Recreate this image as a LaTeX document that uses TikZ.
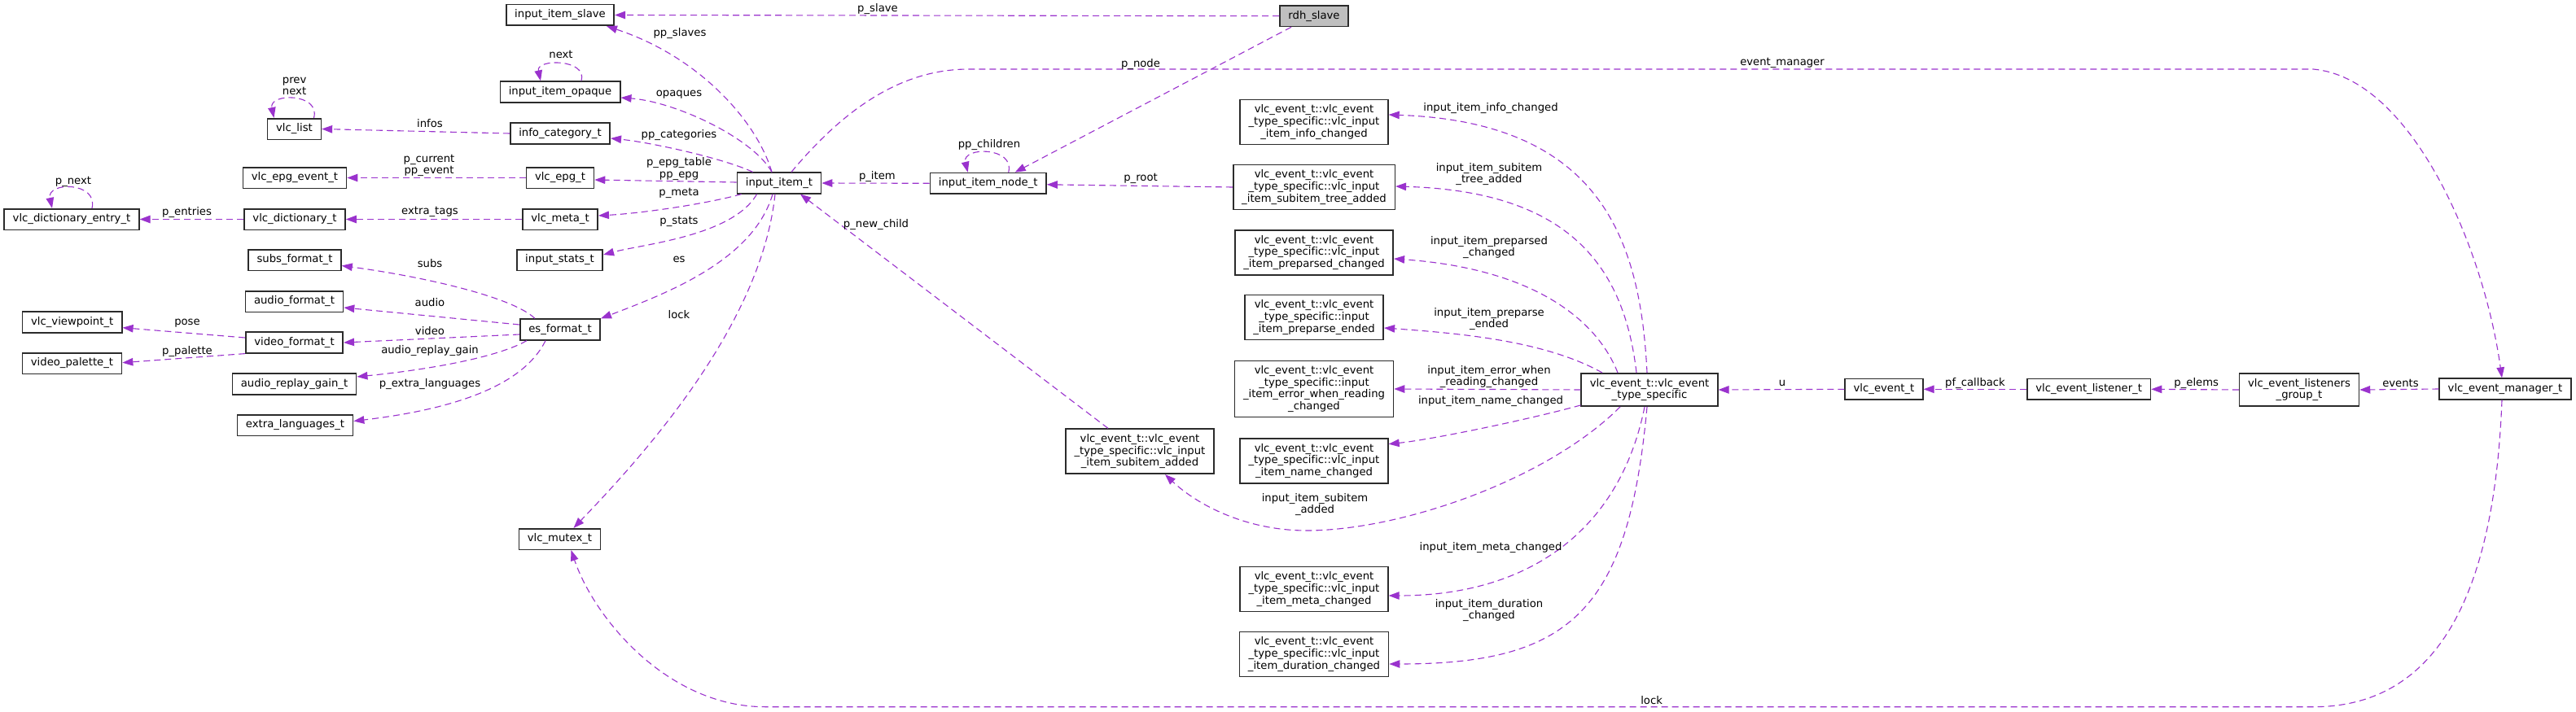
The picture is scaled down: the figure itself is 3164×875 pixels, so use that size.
\documentclass[tikz,border=0pt]{standalone}
\usepackage{fontspec}
\setmainfont{DejaVu Sans}[Ligatures=NoCommon]
\usetikzlibrary{arrows.meta}
\definecolor{edgecol}{HTML}{9A32CD}
\definecolor{bordercol}{HTML}{2B2B2B}
\definecolor{rootfill}{HTML}{BFBFBF}
\tikzset{
  box/.style={draw=bordercol, line width=1.6pt, fill=white, inner xsep=10.5pt, inner ysep=2pt,
    align=center, font=\fontsize{13.2}{14.6}\selectfont, minimum height=25.6pt},
  boxtwo/.style={box, minimum height=40.3pt},
  boxthree/.style={box, minimum height=55pt},
  boxfour/.style={box, minimum height=69.3pt},
  rel/.style={draw=edgecol, line width=1.1pt, dash pattern=on 8pt off 5pt,
    -{Triangle[length=13pt,width=9.5pt]}},
  lbl/.style={inner sep=0pt, align=center, font=\fontsize{13.2}{14.6}\selectfont},
}
\begin{document}
\begin{tikzpicture}[x=1pt,y=-1pt]
\fill[white] (0,0) rectangle (3164,875);
\useasboundingbox (0,0) rectangle (3164,875);

% ---------- nodes ----------
\node[box] (slave) at (688,18.5) {input\_item\_slave};
\node[box] (opaque) at (688,113) {input\_item\_opaque};
\node[box] (vlclist) at (361.5,158.5) {vlc\_list};
\node[box] (infocat) at (688,164) {info\_category\_t};
\node[box] (epgevent) at (362,218.5) {vlc\_epg\_event\_t};
\node[box] (epg) at (688,218.5) {vlc\_epg\_t};
\node[box] (item) at (957,225) {input\_item\_t};
\node[box] (dictentry) at (88,269.5) {vlc\_dictionary\_entry\_t};
\node[box] (dict) at (362,269.5) {vlc\_dictionary\_t};
\node[box] (meta) at (688,269.5) {vlc\_meta\_t};
\node[box] (subs) at (362,319.5) {subs\_format\_t};
\node[box] (stats) at (687.5,319.5) {input\_stats\_t};
\node[box] (audio) at (361.5,370.5) {audio\_format\_t};
\node[box] (viewpoint) at (88.7,396) {vlc\_viewpoint\_t};
\node[box] (es) at (688,405) {es\_format\_t};
\node[box] (video) at (361.5,421) {video\_format\_t};
\node[box] (palette) at (88.5,446.5) {video\_palette\_t};
\node[box] (replay) at (361.5,472) {audio\_replay\_gain\_t};
\node[box] (extralang) at (362.5,522.5) {extra\_languages\_t};
\node[box] (mutex) at (687.5,662.5) {vlc\_mutex\_t};
\node[box, fill=rootfill] (rdh) at (1614,19.7) {rdh\_slave};
\node[box] (itemnode) at (1213.7,225.3) {input\_item\_node\_t};
\node[boxthree] (evinfo) at (1614,150) {vlc\_event\_t::vlc\_event\\\_type\_specific::vlc\_input\\\_item\_info\_changed};
\node[boxthree] (evtree) at (1614,230) {vlc\_event\_t::vlc\_event\\\_type\_specific::vlc\_input\\\_item\_subitem\_tree\_added};
\node[boxthree] (evpreparsed) at (1614,310.5) {vlc\_event\_t::vlc\_event\\\_type\_specific::vlc\_input\\\_item\_preparsed\_changed};
\node[boxthree] (evended) at (1614,390) {vlc\_event\_t::vlc\_event\\\_type\_specific::input\\\_item\_preparse\_ended};
\node[boxfour] (everror) at (1614,478) {vlc\_event\_t::vlc\_event\\\_type\_specific::input\\\_item\_error\_when\_reading\\\_changed};
\node[boxthree] (evadded) at (1400,554.7) {vlc\_event\_t::vlc\_event\\\_type\_specific::vlc\_input\\\_item\_subitem\_added};
\node[boxthree] (evname) at (1614,566.5) {vlc\_event\_t::vlc\_event\\\_type\_specific::vlc\_input\\\_item\_name\_changed};
\node[boxthree] (evmeta) at (1614,724) {vlc\_event\_t::vlc\_event\\\_type\_specific::vlc\_input\\\_item\_meta\_changed};
\node[boxthree] (evduration) at (1614,804) {vlc\_event\_t::vlc\_event\\\_type\_specific::vlc\_input\\\_item\_duration\_changed};
\node[boxtwo] (typespec) at (2026,479) {vlc\_event\_t::vlc\_event\\\_type\_specific};
\node[box] (vlcevent) at (2314,478.3) {vlc\_event\_t};
\node[box] (listener) at (2565.6,478.3) {vlc\_event\_listener\_t};
\node[boxtwo] (group) at (2824,479) {vlc\_event\_listeners\\\_group\_t};
\node[box] (manager) at (3077,478) {vlc\_event\_manager\_t};

% ---------- connectors ----------
\draw[rel] (rdh.west) -- (slave.east);
\draw[rel] ([xshift=-9pt]item.north) .. controls (930,150) and (860,70) .. ([xshift=57pt]slave.south);
\draw[rel] ([xshift=26pt]opaque.north) .. controls (722,72) and (658,72) .. ([xshift=-24pt]opaque.north);
\draw[rel] ([xshift=-9pt]item.north) .. controls (925,170) and (830,125) .. ([yshift=-7pt]opaque.east);
\draw[rel] (infocat.west) -- (vlclist.east);
\draw[rel] ([xshift=24pt]vlclist.north) .. controls (394,114) and (330,114) .. ([xshift=-25pt]vlclist.north);
\draw[rel] ([xshift=20pt]item.north west) .. controls (890,195) and (800,175) .. ([yshift=-6pt]infocat.east);
\draw[rel] (epg.west) -- (epgevent.east);
\draw[rel] ([yshift=1pt]item.west) -- ([yshift=-2.5pt]epg.east);
\draw[rel] (meta.west) -- (dict.east);
\draw[rel] (dict.west) -- (dictentry.east);
\draw[rel] ([xshift=25pt]dictentry.north) .. controls (121,223) and (57,223) .. ([xshift=-24pt]dictentry.north);
\draw[rel] ([xshift=6pt]item.south west) .. controls (870,250) and (790,262) .. ([yshift=4.5pt]meta.east);
\draw[rel] ([xshift=25pt]item.south west) .. controls (900,290) and (790,300) .. ([yshift=6.5pt]stats.east);
\draw[rel] ([xshift=-8pt]item.south) .. controls (925,320) and (820,360) .. ([xshift=50pt]es.north);
\draw[rel] ([xshift=-5pt]item.south) .. controls (935,400) and (790,560) .. ([xshift=17pt]mutex.north);
\draw[rel] ([xshift=-31pt]es.north) .. controls (630,365) and (520,340) .. ([yshift=-7pt]subs.east);
\draw[rel] ([yshift=6pt]es.west) -- ([yshift=-7.5pt]audio.east);
\draw[rel] ([yshift=-6pt]es.west) -- (video.east);
\draw[rel] ([xshift=9pt]es.south west) .. controls (610,440) and (520,455) .. ([yshift=9pt]replay.east);
\draw[rel] ([xshift=-18pt]es.south) .. controls (640,480) and (540,505) .. ([yshift=5pt]extralang.east);
\draw[rel] ([yshift=6pt]video.west) -- ([yshift=-6.7pt]viewpoint.east);
\draw[rel] (video.south west) -- ([yshift=0.8pt]palette.east);
\draw[rel] (itemnode.west) -- (item.east);
\draw[rel] ([xshift=25pt]itemnode.north) .. controls (1247,180) and (1181,180) .. ([xshift=-25pt]itemnode.north);
\draw[rel] ([xshift=-28pt]rdh.south) -- ([xshift=33pt]itemnode.north);
\draw[rel] ([xshift=15pt]item.north) .. controls (1040,130) and (1110,85) .. (1190,85) -- (2841,85)
   .. controls (2960,95) and (3050,300) .. ([xshift=-4pt]manager.north);
\draw[rel] (evtree.west) -- ([yshift=-1.5pt]itemnode.east);
\draw[rel] ([xshift=-39pt]evadded.north) -- ([xshift=26pt]item.south);
\draw[rel] ([xshift=-3pt]typespec.north) .. controls (2015,300) and (1970,150) .. ([yshift=9pt]evinfo.east);
\draw[rel] ([xshift=-16pt]typespec.north) .. controls (1995,330) and (1930,235) .. ([yshift=1pt]evtree.east);
\draw[rel] ([xshift=-39pt]typespec.north) .. controls (1960,390) and (1880,330) .. ([yshift=-7.5pt]evpreparsed.east);
\draw[rel] ([xshift=-58pt]typespec.north) .. controls (1900,420) and (1800,410) .. ([yshift=-13pt]evended.east);
\draw[rel] (typespec.west) -- (everror.east);
\draw[rel] ([yshift=2pt]typespec.south west) .. controls (1880,515) and (1760,540) .. ([yshift=20.8pt]evname.east);
\draw[rel] ([xshift=-36pt]typespec.south) .. controls (1900,590) and (1720,652) .. (1605,652)
   .. controls (1530,652) and (1470,620) .. ([xshift=31pt]evadded.south);
\draw[rel] ([xshift=-6pt]typespec.south) .. controls (1990,650) and (1880,732) .. ([yshift=-8pt]evmeta.east);
\draw[rel] ([xshift=-3pt]typespec.south) .. controls (2000,750) and (1930,816) .. ([yshift=-12pt]evduration.east);
\draw[rel] (vlcevent.west) -- (typespec.east);
\draw[rel] (listener.west) -- (vlcevent.east);
\draw[rel] (group.west) -- (listener.east);
\draw[rel] (manager.west) -- (group.east);
\draw[rel] ([xshift=-4pt]manager.south) .. controls (3065,700) and (3010,868.7) .. (2841,868.7) -- (940,868.7)
   .. controls (820,868.7) and (730,760) .. ([xshift=14pt]mutex.south);

% ---------- labels ----------
\node[lbl] (l1) at (1078,11) {p\_slave};
\node[lbl] (l2) at (835,41) {pp\_slaves};
\node[lbl] (l3) at (689,67) {next};
\node[lbl] (l4) at (834,116) {opaques};
\node[lbl] (l5) at (528,152) {infos};
\node[lbl] (l6) at (361.6,106) {prev\\next};
\node[lbl] (l7) at (834,166) {pp\_categories};
\node[lbl] (l8) at (527,203.5) {p\_current\\pp\_event};
\node[lbl] (l9) at (834,207.5) {p\_epg\_table\\pp\_epg};
\node[lbl] (l10) at (528,260.7) {extra\_tags};
\node[lbl] (l11) at (229.6,260.7) {p\_entries};
\node[lbl] (l12) at (90,223) {p\_next};
\node[lbl] (l13) at (834,237) {p\_meta};
\node[lbl] (l14) at (834,272) {p\_stats};
\node[lbl] (l15) at (834,318.7) {es};
\node[lbl] (l16) at (834,387) {lock};
\node[lbl] (l17) at (528,324) {subs};
\node[lbl] (l18) at (528,372) {audio};
\node[lbl] (l19) at (528,406.7) {video};
\node[lbl] (l20) at (528,430.7) {audio\_replay\_gain};
\node[lbl] (l21) at (528,472) {p\_extra\_languages};
\node[lbl] (l22) at (230,396.7) {pose};
\node[lbl] (l23) at (230,431.7) {p\_palette};
\node[lbl] (l24) at (1077.4,216.7) {p\_item};
\node[lbl] (l25) at (1215,178) {pp\_children};
\node[lbl] (l26) at (1401,79) {p\_node};
\node[lbl] (l27) at (2189,77) {event\_manager};
\node[lbl] (l28) at (1401,219) {p\_root};
\node[lbl] (l29) at (1076,276.3) {p\_new\_child};
\node[lbl] (l30) at (1831,132.7) {input\_item\_info\_changed};
\node[lbl] (l31) at (1829,214) {input\_item\_subitem\\\_tree\_added};
\node[lbl] (l32) at (1829,304) {input\_item\_preparsed\\\_changed};
\node[lbl] (l33) at (1829,392) {input\_item\_preparse\\\_ended};
\node[lbl] (l34) at (1829,463) {input\_item\_error\_when\\\_reading\_changed};
\node[lbl] (l35) at (1831,492.7) {input\_item\_name\_changed};
\node[lbl] (l36) at (1615,620) {input\_item\_subitem\\\_added};
\node[lbl] (l37) at (1831,672.7) {input\_item\_meta\_changed};
\node[lbl] (l38) at (1829,750) {input\_item\_duration\\\_changed};
\node[lbl] (l39) at (2189,470.7) {u};
\node[lbl] (l40) at (2426,470.7) {pf\_callback};
\node[lbl] (l41) at (2697.7,470.7) {p\_elems};
\node[lbl] (l42) at (2948.5,470.7) {events};
\node[lbl] (l43) at (2028.6,860.7) {lock};
\end{tikzpicture}
\end{document}
